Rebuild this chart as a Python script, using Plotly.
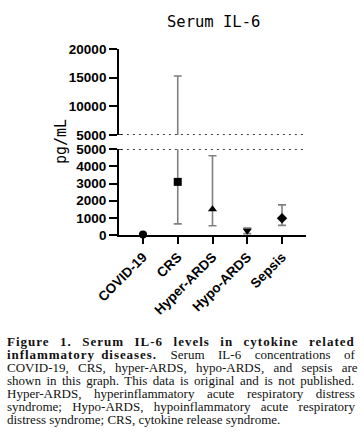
import plotly.graph_objects as go

# ---- data ----
categories = ["COVID-19", "CRS", "Hyper-ARDS", "Hypo-ARDS", "Sepsis"]
means = [30, 3100, 1500, 250, 980]
upper_vals = [80, 15300, 4620, 400, 1760]
lower_vals = [10, 650, 540, 80, 560]
symbols = ["circle", "square", "triangle-up", "triangle-down", "diamond"]

lower_ticks = [0, 1000, 2000, 3000, 4000, 5000]
upper_ticks = [5000, 10000, 15000, 20000]
break_value = 5000

caption_lines = [
    ("<span style='letter-spacing:1px;word-spacing:6.2px'><b>Figure 1. Serum IL-6 levels in cytokine related</b></span>"),
    ("<span style='letter-spacing:0.95px;word-spacing:2px'><b>inflammatory diseases.</b></span>"
     "<span style='word-spacing:10.3px'> Serum IL-6 concentrations of</span>"),
    "<span style='word-spacing:6.0px'>COVID-19, CRS, hyper-ARDS, hypo-ARDS, and sepsis are</span>",
    "<span style='word-spacing:2.2px'>shown in this graph. This data is original and is not published.</span>",
    "<span style='word-spacing:9.3px'>Hyper-ARDS, hyperinflammatory acute respiratory distress</span>",
    "<span style='word-spacing:7.1px'>syndrome; Hypo-ARDS, hypoinflammatory acute respiratory</span>",
    "distress syndrome; CRS, cytokine release syndrome.",
]
caption_baselines = [345.5, 358.5, 371.5, 385, 398, 411, 424]

# ---- layout geometry (pixels) ----
W, H = 364, 443
L, R, T, B = 119, 306, 49, 235
pw, ph = R - L, B - T


def px_x(px):
    return (px - L) / pw


def px_y(py):
    return (B - py) / ph


err_plus = [u - m for u, m in zip(upper_vals, means)]
err_minus = [m - l for m, l in zip(means, lower_vals)]
err_style = dict(type="data", symmetric=False, array=err_plus, arrayminus=err_minus,
                 color="#808080", thickness=1.6, width=4)

fig = go.Figure()
fig.add_trace(go.Scatter(x=categories, y=means, mode="markers",
                         marker=dict(size=1, color="rgba(0,0,0,0)"),
                         error_y=err_style, xaxis="x", yaxis="y",
                         showlegend=False, hoverinfo="skip"))
fig.add_trace(go.Scatter(x=categories, y=means, mode="markers",
                         marker=dict(size=1, color="rgba(0,0,0,0)"),
                         error_y=err_style, xaxis="x2", yaxis="y2",
                         showlegend=False, hoverinfo="skip"))
fig.add_trace(go.Scatter(x=categories, y=means, mode="markers",
                         marker=dict(size=8, color="black", symbol=symbols,
                                     line=dict(width=0)),
                         cliponaxis=False, xaxis="x", yaxis="y", showlegend=False))

axis_common = dict(showline=True, linecolor="black", linewidth=1.8,
                   ticks="outside", ticklen=8, tickwidth=1.6, tickcolor="black",
                   showgrid=False, zeroline=False)

fig.update_layout(
    width=W, height=H,
    margin=dict(l=L, r=W - R, t=T, b=H - B, pad=0, autoexpand=False),
    paper_bgcolor="white", plot_bgcolor="white",
    showlegend=False,
    xaxis=dict(axis_common, type="category", range=[-0.69, 4.69], anchor="y",
               tickangle=-45, automargin=False, ticklen=7,
               tickfont=dict(family="Liberation Sans", size=13.5, color="black", weight="bold")),
    xaxis2=dict(type="category", range=[-0.69, 4.69], anchor="y2", matches="x",
                visible=False),
    yaxis=dict(axis_common, domain=[0, px_y(149.3)], range=[0, break_value],
               tickvals=lower_ticks, ticktext=[str(v) for v in lower_ticks], automargin=False,
               tickfont=dict(family="Liberation Sans", size=13.5, color="black", weight="bold")),
    yaxis2=dict(axis_common, domain=[px_y(135), 1], range=[break_value, 20000],
                tickvals=upper_ticks, ticktext=[str(v) for v in upper_ticks],
                anchor="x2", automargin=False,
                tickfont=dict(family="Liberation Sans", size=13.5, color="black", weight="bold")),
)

for yr in ("y", "y2"):
    fig.add_shape(type="line", xref="paper", yref=yr, x0=0.01, x1=1.0,
                  y0=break_value, y1=break_value,
                  line=dict(color="black", width=1.5, dash="2px,4px"))
    fig.add_shape(type="line", xref="paper", yref=yr, x0=0, x1=0.018,
                  y0=break_value, y1=break_value,
                  line=dict(color="black", width=1.6))

fig.add_annotation(text="Serum IL-6", xref="paper", yref="paper",
                   x=px_x(213), y=px_y(22), xanchor="center", yanchor="middle",
                   showarrow=False,
                   font=dict(family="DejaVu Sans Mono", size=15.5, color="black"))
fig.add_annotation(text="pg/mL", xref="paper", yref="paper",
                   x=px_x(61), y=px_y(142), xanchor="center", yanchor="middle",
                   textangle=-90, showarrow=False,
                   font=dict(family="DejaVu Sans Mono", size=15, color="black"))

for line, bl in zip(caption_lines, caption_baselines):
    fig.add_annotation(text=line, xref="paper", yref="paper",
                       x=px_x(6), y=px_y(bl - 4.4), xanchor="left", yanchor="middle",
                       align="left", showarrow=False, borderpad=0,
                       font=dict(family="Liberation Serif", size=13, color="#111"))

fig.write_html("out.html", config={"displayModeBar": False},
               post_script="document.body.style.margin='0';document.body.style.overflow='hidden';")
